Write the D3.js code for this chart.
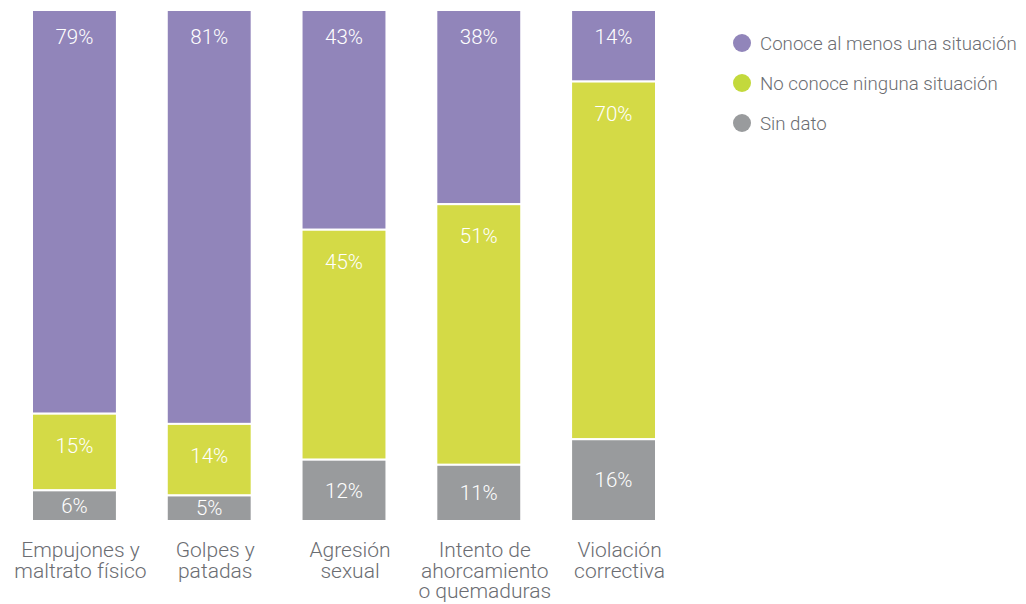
<!DOCTYPE html>
<html>
<head>
<meta charset="utf-8">
<script src="https://cdn.jsdelivr.net/npm/d3@7/dist/d3.min.js"></script>
<style>
  html, body { margin: 0; padding: 0; background: #fff; }
  svg { display: block; font-family: Roboto, "Noto Sans", sans-serif; font-weight: 300; }
</style>
</head>
<body>
<div id="chart"></div>
<script>
// categorías (con saltos de línea)
const categories = [
  ['Empujones y', 'maltrato físico'],
  ['Golpes y', 'patadas'],
  ['Agresión', 'sexual'],
  ['Intento de', 'ahorcamiento', 'o quemaduras'],
  ['Violación', 'correctiva']
];
const seriesNames = ['Conoce al menos una situación', 'No conoce ninguna situación', 'Sin dato'];
const conoce = [79, 81, 43, 38, 14];
const noConoce = [15, 14, 45, 51, 70];
const sinDato = [6, 5, 12, 11, 16];
const colors = ['#9185ba', '#d4da46', '#999b9d'];
const legendColors = ['#9185ba', '#c3d93c', '#999b9d'];

const width = 1026, height = 604;
const svg = d3.select('#chart').append('svg')
  .attr('width', width).attr('height', height);

const keys = ['conoce', 'noConoce', 'sinDato'];
const rows = categories.map((c, i) => ({
  idx: i, conoce: conoce[i], noConoce: noConoce[i], sinDato: sinDato[i]
}));
const stacked = d3.stack().keys(keys)(rows);

const x = d3.scaleBand()
  .domain(d3.range(categories.length))
  .range([32, 656])
  .paddingInner(0.37)
  .paddingOuter(0);
// el stack va de arriba (conoce) hacia abajo
const y = d3.scaleLinear().domain([0, 100]).range([10, 521]);

const layer = svg.append('g').selectAll('g')
  .data(stacked)
  .enter().append('g')
  .attr('fill', (d, i) => colors[i]);

layer.selectAll('rect')
  .data(d => d)
  .enter().append('rect')
  .attr('x', d => x(d.data.idx))
  .attr('y', d => y(d[0]))
  .attr('width', x.bandwidth())
  .attr('height', d => y(d[1]) - y(d[0]))
  .attr('stroke', '#fff')
  .attr('stroke-width', 2);

// etiquetas de porcentaje
const labelOffset = [27, 32];
layer.each(function (s, si) {
  d3.select(this).selectAll('text')
    .data(s)
    .enter().append('text')
    .attr('x', d => x(d.data.idx) + x.bandwidth() / 2)
    .attr('y', d => si === 2 ? (y(d[0]) + y(d[1])) / 2 : y(d[0]) + labelOffset[si])
    .attr('dy', '0.35em')
    .attr('text-anchor', 'middle')
    .attr('fill', '#fff')
    .attr('font-size', 20.5)
    .text(d => (d[1] - d[0]) + '%');
});

// etiquetas de categoría
const catLabel = svg.append('g').selectAll('text')
  .data(categories)
  .enter().append('text')
  .attr('x', (d, i) => x(i) + x.bandwidth() / 2 + 6)
  .attr('y', 550)
  .attr('text-anchor', 'middle')
  .attr('fill', '#6b6d72')
  .attr('font-size', 21);
catLabel.selectAll('tspan')
  .data(d => d)
  .enter().append('tspan')
  .attr('x', function () { return d3.select(this.parentNode).attr('x'); })
  .attr('dy', (d, i) => i === 0 ? '0.35em' : 20.5)
  .text(d => d);

// leyenda
const legend = svg.append('g').selectAll('g')
  .data(seriesNames)
  .enter().append('g')
  .attr('transform', (d, i) => `translate(742,${43 + i * 40})`);
legend.append('circle')
  .attr('r', 9)
  .attr('fill', (d, i) => legendColors[i]);
legend.append('text')
  .attr('x', 18)
  .attr('dy', '0.35em')
  .attr('fill', '#6b6d72')
  .attr('font-size', 18.7)
  .text(d => d);
</script>
</body>
</html>
